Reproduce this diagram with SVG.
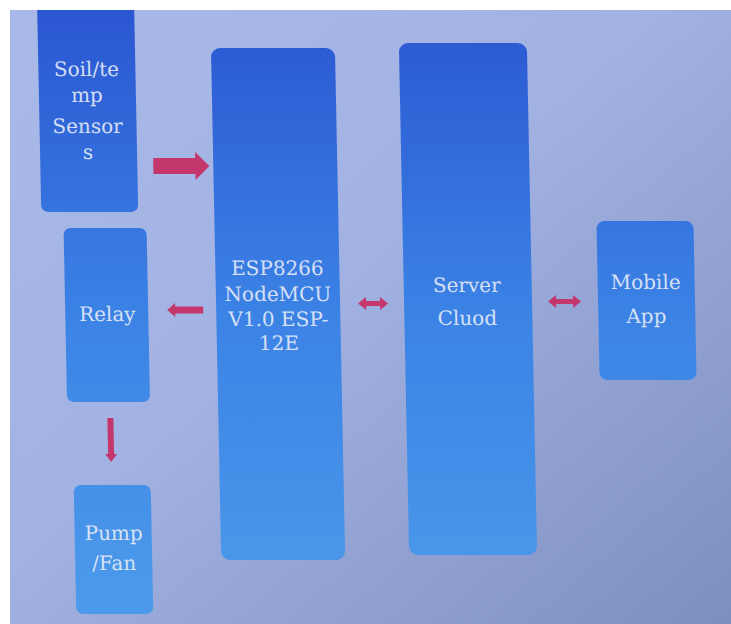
<svg xmlns="http://www.w3.org/2000/svg" width="731" height="624" viewBox="0 0 731 624">
  <defs>
    <linearGradient id="bg" x1="0" y1="0" x2="1" y2="1">
      <stop offset="0" stop-color="#a9b9e8"/>
      <stop offset="0.45" stop-color="#a2b2e2"/>
      <stop offset="1" stop-color="#7d8fc0"/>
    </linearGradient>
    <linearGradient id="bx" gradientUnits="userSpaceOnUse" x1="0" y1="0" x2="0" y2="620">
      <stop offset="0" stop-color="#2a55d1"/>
      <stop offset="0.5" stop-color="#3b82e5"/>
      <stop offset="1" stop-color="#4c9beb"/>
    </linearGradient>
    <style>
      .box { fill: url(#bx); }
      .lbl { font-family: "DejaVu Serif", "Liberation Serif", serif; font-size: 20px; fill: #e4eaf7; fill-opacity: 0.93; text-anchor: middle; }
      .arr { fill: #c3376c; }
    </style>
  </defs>
  <rect x="0" y="0" width="731" height="624" fill="url(#bg)"/>
  <g transform="matrix(1,0,0.02,1,-6,0)">
    <g id="soil-sensors">
      <rect class="box" x="43" y="-8" width="97" height="220" rx="7"/>
      <text class="lbl" x="91" y="76">Soil/te</text>
      <text class="lbl" x="91" y="102">mp</text>
      <text class="lbl" x="91" y="133">Sensor</text>
      <text class="lbl" x="91" y="159">s</text>
    </g>
    <g id="esp8266">
      <rect class="box" x="216" y="48" width="124" height="512" rx="9"/>
      <text class="lbl" x="278" y="275">ESP8266</text>
      <text class="lbl" x="278" y="301">NodeMCU</text>
      <text class="lbl" x="278" y="326">V1.0 ESP-</text>
      <text class="lbl" x="278" y="350">12E</text>
    </g>
    <g id="server-cloud">
      <rect class="box" x="404" y="43" width="128" height="512" rx="9"/>
      <text class="lbl" x="467" y="292">Server</text>
      <text class="lbl" x="467" y="325">Cluod</text>
    </g>
    <g id="mobile-app">
      <rect class="box" x="598" y="221" width="97" height="159" rx="8"/>
      <text class="lbl" x="646" y="289">Mobile</text>
      <text class="lbl" x="646" y="323">App</text>
    </g>
    <g id="relay">
      <rect class="box" x="65" y="228" width="83" height="174" rx="7"/>
      <text class="lbl" x="107" y="321">Relay</text>
    </g>
    <g id="pump-fan">
      <rect class="box" x="70" y="485" width="77" height="129" rx="7"/>
      <text class="lbl" x="109" y="540" fill-opacity="0.8">Pump</text>
      <text class="lbl" x="109" y="570" fill-opacity="0.8">/Fan</text>
    </g>
    <g id="connectors">
      <polygon class="arr" points="156,158 198,158 198,152 212,166 198,180 198,174 156,174"/>
      <polygon class="arr" points="203,306.5 175,306.5 175,303 167,310 175,317 175,313.5 203,313.5"/>
      <polygon class="arr" points="105,418 111,418 111,454 114,454 108,462 102,454 105,454" fill="#bb467a"/>
      <polygon class="arr" points="358,303.5 366,297 366,301 380,301 380,297 388,303.5 380,310 380,306 366,306 366,310"/>
      <polygon class="arr" points="548,301.5 556,295 556,299 573,299 573,295 581,301.5 573,308 573,304 556,304 556,308"/>
    </g>
  </g>
  <rect x="0" y="0" width="731" height="10" fill="#ffffff"/>
  <rect x="0" y="0" width="10" height="624" fill="#ffffff"/>
</svg>
